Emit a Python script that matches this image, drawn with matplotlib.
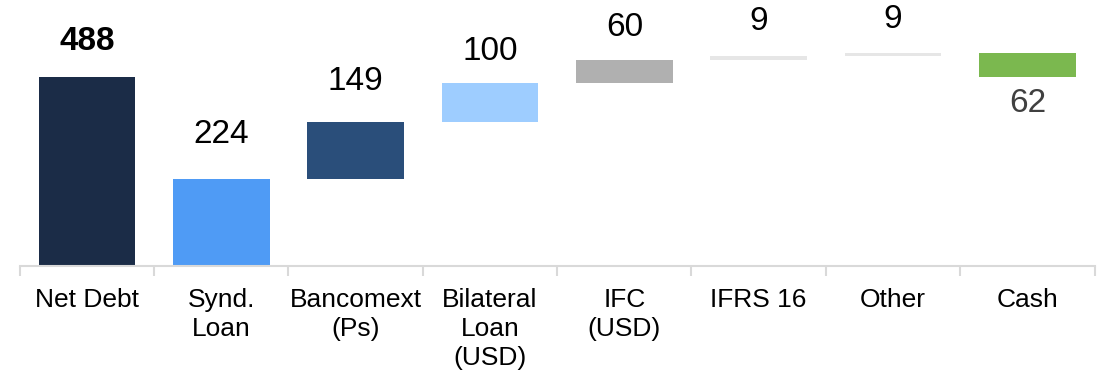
import numpy as np
import matplotlib.pyplot as plt

plt.rcParams['font.family'] = ['Liberation Sans', 'DejaVu Sans']

labels = ['Net Debt', 'Synd.\nLoan', 'Bancomext\n(Ps)', 'Bilateral\nLoan\n(USD)',
          'IFC\n(USD)', 'IFRS 16', 'Other', 'Cash']
values = [488, 224, 149, 100, 60, 9, 9, -62]
colors = ['#1b2c47', '#4f9bf5', '#2a4e7a', '#9ecdff', '#b0b0b0', '#e6e6e6', '#e6e6e6', '#7bb84f']
# label gap from bar edge (pixels), as placed in the original
label_gap = [36, 45, 40, 31, 32, 35, 33, 27]

# waterfall bottoms: first bar is a total, the rest stack from 0
bottoms = [0]
run = 0
for v in values[1:]:
    bottoms.append(run if v > 0 else run + v)
    run += v
bottoms = np.array(bottoms)
heights = np.abs(values)

fig = plt.figure(figsize=(11, 3.75), dpi=100)
ax = fig.add_axes([0.018, 0.291, 0.977, 0.709])
x = np.arange(len(values))
ax.bar(x, heights, bottom=bottoms, width=0.72, color=colors)

for i, v in enumerate(values):
    gap = label_gap[i] * 0.72
    if v >= 0:
        ax.annotate(str(v), (x[i], bottoms[i] + heights[i]), xytext=(0, gap),
                    textcoords='offset points', ha='center', va='center',
                    fontsize=24, fontweight='bold' if i == 0 else 'normal', color='black')
    else:
        ax.annotate(str(-v), (x[i], bottoms[i]), xytext=(0, -gap),
                    textcoords='offset points', ha='center', va='center',
                    fontsize=24, color='#404040')

ax.set_xlim(-0.5, len(values) - 0.5)
ax.set_ylim(0, 687)
ax.set_xticks(x)
ax.set_xticklabels(labels, fontsize=19, linespacing=1.25)
ax.set_xticks(np.arange(-0.5, len(values)), minor=True)
ax.tick_params(axis='x', which='major', length=0, pad=16)
ax.tick_params(axis='x', which='minor', length=7, color='#d9d9d9', width=1.5)
ax.set_yticks([])
for s in ['top', 'right', 'left']:
    ax.spines[s].set_visible(False)
ax.spines['bottom'].set_color('#d9d9d9')
ax.spines['bottom'].set_linewidth(1.5)

fig.savefig('out.png', dpi=100)
